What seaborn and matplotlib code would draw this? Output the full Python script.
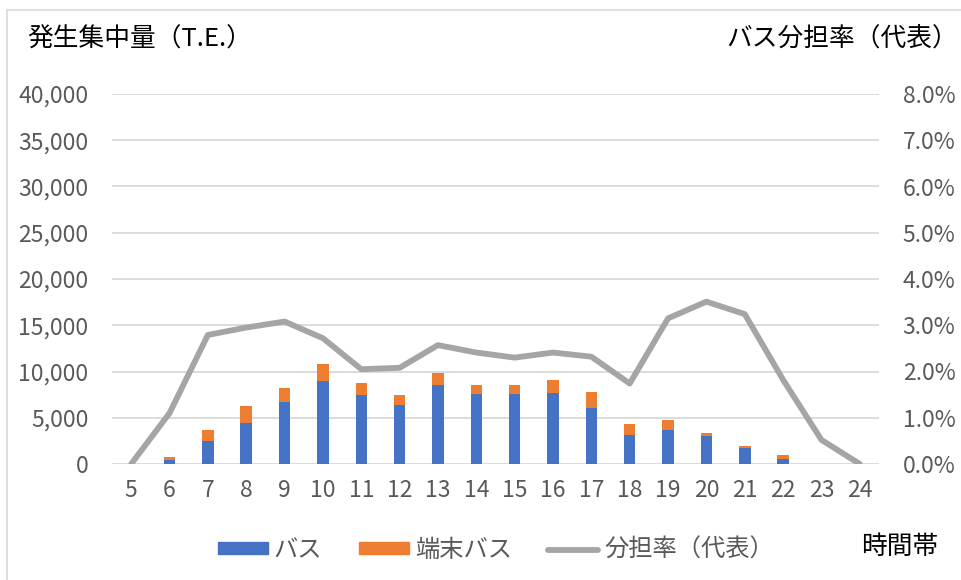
import numpy as np
import pandas as pd
import seaborn as sns
import matplotlib.pyplot as plt
from matplotlib.patches import Patch, Rectangle
from matplotlib.lines import Line2D
from matplotlib.ticker import FuncFormatter

# -------------------------------------------------
# Data
# -------------------------------------------------
hours = [str(h) for h in range(5, 25)]
bus = [0, 420, 2450, 4430, 6740, 9000, 7460, 6410, 8580, 7600,
       7600, 7710, 6090, 3170, 3710, 3060, 1770, 540, 20, 0]
feeder_bus = [0, 330, 1230, 1840, 1440, 1850, 1300, 1050, 1300, 940,
              970, 1410, 1660, 1190, 1080, 330, 180, 430, 30, 0]
share_pct = [0.0, 1.10, 2.79, 2.95, 3.08, 2.72, 2.05, 2.08, 2.57, 2.41,
             2.30, 2.41, 2.32, 1.74, 3.15, 3.51, 3.24, 1.82, 0.52, 0.0]

left_title = "発生集中量（T.E.）"
right_title = "バス分担率（代表）"
x_title = "時間帯"
legend_labels = ["バス", "端末バス", "分担率（代表）"]

BLUE = "#4472C4"
ORANGE = "#ED7D31"
GRAY = "#A5A5A5"
GRID = "#D9D9D9"
TEXT = "#595959"

df = pd.DataFrame({"hour": hours, "bus": bus, "feeder": feeder_bus})
df["total"] = df["bus"] + df["feeder"]
df["pos"] = np.arange(len(hours))
df["share"] = np.array(share_pct) / 100

# -------------------------------------------------
# Plot
# -------------------------------------------------
sns.set_theme(style="white")
plt.rcParams["font.family"] = ["Noto Sans CJK JP", "DejaVu Sans"]

fig = plt.figure(figsize=(9.61, 5.80), dpi=100)
ax = fig.add_axes([112 / 961, 1 - 464 / 580, (879 - 112) / 961, (464 - 94) / 580])

sns.barplot(data=df, x="hour", y="total", color=ORANGE, width=0.3,
            saturation=1, linewidth=0, ax=ax)
sns.barplot(data=df, x="hour", y="bus", color=BLUE, width=0.3,
            saturation=1, linewidth=0, ax=ax)

ax.set_ylim(0, 40000)
ax.set_yticks(np.arange(0, 40001, 5000))
ax.yaxis.set_major_formatter(FuncFormatter(lambda v, p: f"{v:,.0f}"))
ax.set_xlim(-0.5, len(hours) - 0.5)
ax.yaxis.grid(True, color=GRID, linewidth=1.3)
ax.set_axisbelow(True)
ax.set_xlabel("")
ax.set_ylabel("")
ax.tick_params(axis="both", length=0, labelsize=16.5, colors=TEXT)
ax.tick_params(axis="y", pad=17)
ax.tick_params(axis="x", pad=11)
for s in ax.spines.values():
    s.set_visible(False)

ax2 = ax.twinx()
sns.lineplot(data=df, x="pos", y="share", color=GRAY, linewidth=4.2,
             ax=ax2, legend=False)
ax2.set_ylim(0, 0.08)
ax2.set_yticks(np.arange(0, 0.0801, 0.01))
ax2.yaxis.set_major_formatter(FuncFormatter(lambda v, p: f"{v * 100:.1f}%"))
ax2.set_xlim(-0.5, len(hours) - 0.5)
ax2.set_xlabel("")
ax2.set_ylabel("")
ax2.tick_params(axis="y", length=0, labelsize=16.5, colors=TEXT, pad=17)
for s in ax2.spines.values():
    s.set_visible(False)

# titles
fig.text(27 / 961, 1 - 40 / 580, left_title, ha="left", va="center",
         fontsize=18.5, color="black")
fig.text(958 / 961, 1 - 40 / 580, right_title, ha="right", va="center",
         fontsize=18.5, color="black")
fig.text(861 / 961, 1 - 547 / 580, x_title, ha="left", va="center",
         fontsize=18.5, color="black")

# legend
handles = [Patch(color=BLUE), Patch(color=ORANGE),
           Line2D([0], [0], color=GRAY, linewidth=4.2)]
leg = fig.legend(handles, legend_labels, loc="center left",
                 bbox_to_anchor=(218 / 961, 1 - 550 / 580), ncol=3,
                 frameon=False, fontsize=17.5, handlelength=2.05,
                 handleheight=0.4, handletextpad=0.25, columnspacing=1.5,
                 borderpad=0, borderaxespad=0)
for t in leg.get_texts():
    t.set_color(TEXT)

# chart border (cropped at right and bottom)
fig.patches.append(Rectangle((7 / 961, -0.1), 1.2, 1 - 10 / 580 + 0.1,
                             transform=fig.transFigure, fill=False,
                             edgecolor=GRID, linewidth=1.2))

fig.savefig("out.png", dpi=100)
